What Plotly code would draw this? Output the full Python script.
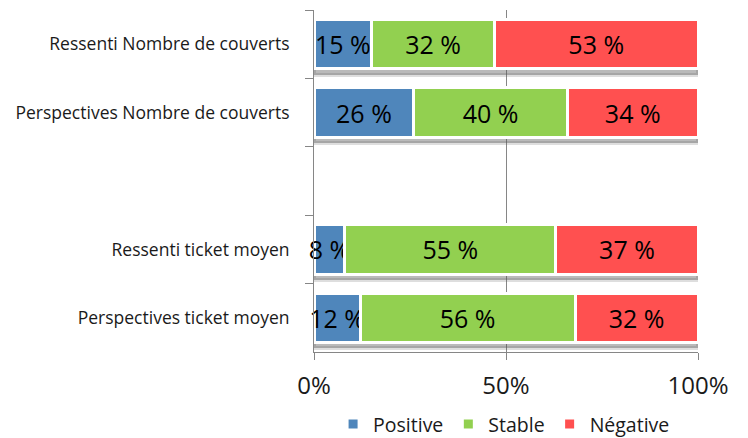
import plotly.graph_objects as go

# données
categories = ["Ressenti Nombre de couverts", "Perspectives Nombre de couverts", " ",
              "Ressenti ticket moyen", "Perspectives ticket moyen"]
positive = [15, 26, None, 8, 12]
stable = [32, 40, None, 55, 56]
negative = [53, 34, None, 37, 32]

series = [("Positive", positive, "#4f86bb"),
          ("Stable", stable, "#92d050"),
          ("Négative", negative, "#ff5050")]

font_main = "'Open Sans', Lato, sans-serif"
bar_w = 0.72

fig = go.Figure()

# ombre douce sous les barres
totals = [sum(v) if v[0] is not None else None for v in zip(positive, stable, negative)]
fig.add_trace(go.Bar(
    y=categories, x=totals, orientation="h", yaxis="y",
    width=bar_w, offset=-bar_w / 2 + 0.085,
    marker=dict(color="rgba(90,90,90,0.42)",
                line=dict(color="rgba(90,90,90,0.2)", width=4)),
    showlegend=False, hoverinfo="skip",
))

for name, vals, color in series:
    fig.add_trace(go.Bar(
        name=name, y=categories, x=vals, orientation="h", yaxis="y2",
        width=bar_w,
        marker=dict(color=color, line=dict(color="white", width=3)),
        text=[f"{v} %" if v is not None else "" for v in vals],
        textposition="inside", insidetextanchor="middle",
        textangle=0, constraintext="none", cliponaxis=False,
        textfont=dict(size=25, color="black", family=font_main),
    ))

# la page html a une marge de 8 px autour de la figure
fig.update_layout(
    barmode="stack",
    width=740, height=430,
    margin=dict(l=306, r=50, t=2, b=86),
    plot_bgcolor="white", paper_bgcolor="white",
    font=dict(family=font_main, color="#1a1a1a"),
    legend=dict(orientation="h", x=0.495, xanchor="center",
                yref="container", y=0.032, yanchor="middle",
                font=dict(size=19.5), itemwidth=30, traceorder="normal"),
    yaxis2=dict(overlaying="y", matches="y", visible=False,
                categoryorder="array", categoryarray=categories),
)
fig.update_xaxes(
    range=[0, 100], tickvals=[0, 50, 100], ticktext=["0%", "50%", "100%"],
    showgrid=True, gridcolor="#868686", gridwidth=1,
    showline=True, linecolor="#868686", zeroline=False,
    ticks="outside", ticklen=7, tickcolor="#868686",
    tickfont=dict(size=24), ticklabelstandoff=5, automargin=False,
)
fig.update_layout(yaxis=dict(
    autorange="reversed", showgrid=False,
    categoryorder="array", categoryarray=categories,
    showline=True, linecolor="#868686",
    ticks="outside", ticklen=8, tickcolor="#868686", tickson="boundaries",
    tickfont=dict(size=17.5), ticklabelstandoff=20, automargin=False,
))

fig.write_html("out.html")
